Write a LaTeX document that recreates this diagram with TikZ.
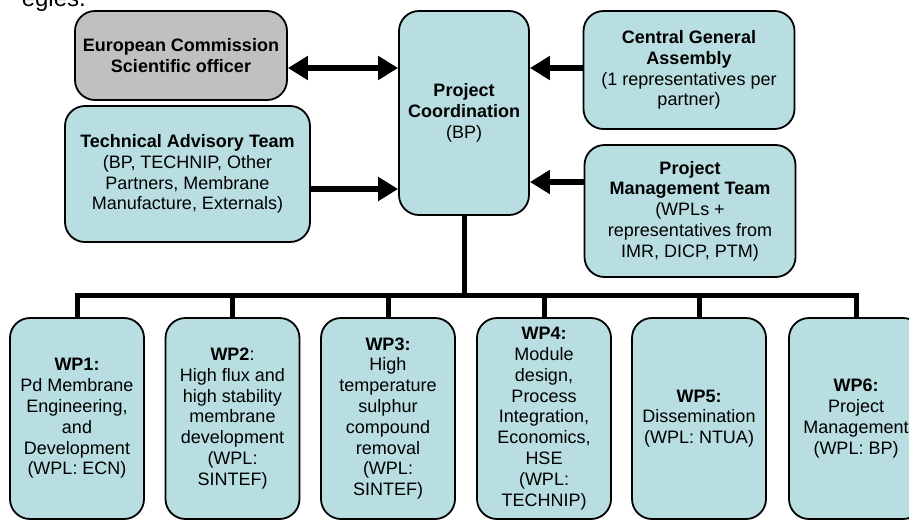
\documentclass[tikz,border=0pt]{standalone}
\usepackage{fontspec}
\setmainfont{Liberation Sans}
\usetikzlibrary{arrows.meta}
\definecolor{boxblue}{HTML}{B8DEE1}
\definecolor{boxgrey}{HTML}{C0C0C0}
\tikzset{
  orgbox/.style={draw=black, line width=1.8pt, fill=boxblue, rounded corners=20pt,
    align=center, inner sep=0pt, font=\fontsize{18}{20.8}\selectfont},
  greybox/.style={orgbox, fill=boxgrey},
  bigarrow/.style={line width=6.5pt, -{Triangle[length=20pt,width=23pt]}},
  bigdarrow/.style={line width=6.5pt, {Triangle[length=20pt,width=23pt]}-{Triangle[length=20pt,width=23pt]}},
  busline/.style={line width=5pt, line join=miter}
}
\begin{document}
\begin{tikzpicture}[x=1pt,y=-1pt]
\useasboundingbox (0,0) rectangle (909,520);
% cut caption fragment at the top
\node[anchor=base east, inner sep=0pt, font=\fontsize{24}{28}\selectfont] (cap) at (86,6) {egies.};
% upper boxes
\node[greybox, minimum width=212pt, minimum height=89pt] (ec) at (181,55.5)
  {\textbf{European Commission}\\\textbf{Scientific officer}};
\node[orgbox, minimum width=130pt, minimum height=204pt] (pc) at (464,113)
  {\textbf{Project}\\\textbf{Coordination}\\(BP)};
\node[orgbox, minimum width=211pt, minimum height=118pt] (cga) at (689,70)
  {\textbf{Central General}\\\textbf{Assembly}\\(1 representatives per\\partner)};
\node[orgbox, minimum width=211pt, minimum height=132pt] (pmt) at (690,211)
  {\textbf{Project}\\\textbf{Management Team}\\(WPLs +\\representatives from\\IMR, DICP, PTM)};
\node[orgbox, minimum width=245pt, minimum height=136pt] (tat) at (187.5,174)
  {\textbf{Technical Advisory Team}\\(BP, TECHNIP, Other\\Partners, Membrane\\Manufacture, Externals)};
% work packages
\tikzset{wpbox/.style={orgbox, minimum width=134pt, minimum height=201pt}}
\node[wpbox] (wp1) at (77,418.5)
  {\textbf{WP1:}\\Pd Membrane\\Engineering,\\and\\Development\\(WPL: ECN)};
\node[wpbox] (wp2) at (232.5,418.5)
  {\textbf{WP2}:\\High flux and\\high stability\\membrane\\development\\(WPL:\\SINTEF)};
\node[wpbox] (wp3) at (388,418.5)
  {\textbf{WP3:}\\High\\temperature\\sulphur\\compound\\removal\\(WPL:\\SINTEF)};
\node[wpbox] (wp4) at (544,418.5)
  {\textbf{WP4:}\\Module\\design,\\Process\\Integration,\\Economics,\\HSE\\(WPL:\\TECHNIP)};
\node[wpbox] (wp5) at (699,418.5)
  {\textbf{WP5:}\\Dissemination\\(WPL: NTUA)};
\node[wpbox] (wp6) at (856,418.5)
  {\textbf{WP6:}\\Project\\Management\\(WPL: BP)};
% arrows to project coordination
\draw[bigdarrow] ([yshift=-12.5pt]ec.east) -- ([yshift=-12.5pt]ec.east -| pc.west);
\draw[bigarrow] ([yshift=2pt]cga.west) -- ([yshift=2pt]cga.west -| pc.east);
\draw[bigarrow] ([yshift=-15pt]tat.east) -- ([yshift=-15pt]tat.east -| pc.west);
\draw[bigarrow] ([yshift=29pt]pmt.west) -- ([yshift=29pt]pmt.west -| pc.east);
% tree bus
\coordinate (busy) at (0,295);
\draw[busline] (pc.south) -- (pc.south |- busy);
\draw[busline] (wp1.north) -- (wp1.north |- busy) -- (wp6.north |- busy) -- (wp6.north);
\foreach \w in {wp2,wp3,wp4,wp5}
  \draw[busline] (\w.north) -- (\w.north |- busy);
\end{tikzpicture}
\end{document}
